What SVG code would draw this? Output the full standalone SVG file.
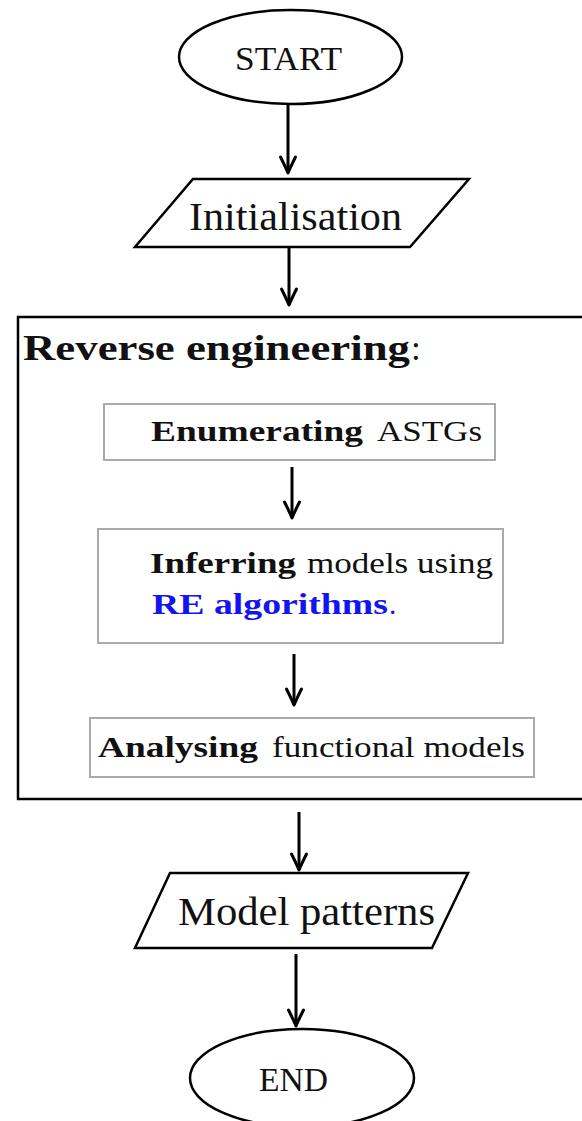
<svg xmlns="http://www.w3.org/2000/svg" width="582" height="1121" viewBox="0 0 582 1121">
  <style>
    text { font-family: "Liberation Serif", "Times New Roman", "DejaVu Serif", serif; fill: #111; }
    .b { font-weight: bold; }
    .blue { fill: #1414f0; }
    .shape { fill: #fff; stroke: #000; stroke-width: 2.5; }
    .frame { fill: none; stroke: #000; stroke-width: 2.5; }
    .step { fill: #fff; stroke: #aaaaaa; stroke-width: 2; }
    .edge { fill: none; stroke: #000; stroke-width: 3; }
  </style>
  <defs>
    <marker id="head" markerUnits="userSpaceOnUse" markerWidth="24" markerHeight="24" viewBox="-20 -12 24 24" refX="0" refY="0" orient="auto">
      <path d="M-16,-7.5 Q-6,-2.5 0,0 Q-6,2.5 -16,7.5" fill="none" stroke="#000" stroke-width="3" stroke-linecap="round" stroke-linejoin="round"/>
    </marker>
  </defs>
  <rect width="582" height="1121" fill="#fff"/>

  <g id="start">
    <ellipse class="shape" cx="290.5" cy="57" rx="111.5" ry="47"/>
    <text x="235" y="70" font-size="33" textLength="107" lengthAdjust="spacingAndGlyphs">START</text>
  </g>

  <g id="initialisation">
    <polygon class="shape" points="193,179 469,179 410,247 135,247"/>
    <text x="189" y="230" font-size="39" textLength="213" lengthAdjust="spacingAndGlyphs">Initialisation</text>
  </g>

  <g id="reverse-engineering">
    <rect class="frame" x="18" y="317" width="570" height="482"/>
    <text class="b" x="23" y="360" font-size="35" textLength="387" lengthAdjust="spacingAndGlyphs">Reverse engineering</text>
    <text x="411" y="360" font-size="35">:</text>
  </g>

  <g id="enumerating">
    <rect class="step" x="104" y="404" width="391" height="56"/>
    <text class="b" x="151" y="441" font-size="29" textLength="212" lengthAdjust="spacingAndGlyphs">Enumerating</text>
    <text x="377" y="441" font-size="29" textLength="105" lengthAdjust="spacingAndGlyphs">ASTGs</text>
  </g>

  <g id="inferring">
    <rect class="step" x="98" y="529" width="405" height="114"/>
    <text class="b" x="150" y="573" font-size="29" textLength="146" lengthAdjust="spacingAndGlyphs">Inferring</text>
    <text x="307" y="573" font-size="29" textLength="186" lengthAdjust="spacingAndGlyphs">models using</text>
    <text class="b blue" x="152" y="614" font-size="29" textLength="236" lengthAdjust="spacingAndGlyphs">RE algorithms</text>
    <text class="blue" x="389" y="614" font-size="29">.</text>
  </g>

  <g id="analysing">
    <rect class="step" x="90" y="718" width="444" height="59"/>
    <text class="b" x="98" y="757" font-size="29" textLength="160" lengthAdjust="spacingAndGlyphs">Analysing</text>
    <text x="272" y="757" font-size="29" textLength="253" lengthAdjust="spacingAndGlyphs">functional models</text>
  </g>

  <g id="model-patterns">
    <polygon class="shape" points="170,873 468,873 432,948 135,948"/>
    <text x="178" y="925" font-size="39" textLength="257" lengthAdjust="spacingAndGlyphs">Model patterns</text>
  </g>

  <g id="end">
    <ellipse class="shape" cx="302" cy="1078" rx="112" ry="49"/>
    <text x="259" y="1091" font-size="33" textLength="69" lengthAdjust="spacingAndGlyphs">END</text>
  </g>

  <g id="connectors">
    <path class="edge" d="M288,104 L288,173" marker-end="url(#head)"/>
    <path class="edge" d="M289,248 L289,305" marker-end="url(#head)"/>
    <path class="edge" d="M292,467 L292,518" marker-end="url(#head)"/>
    <path class="edge" d="M294,654 L294,705" marker-end="url(#head)"/>
    <path class="edge" d="M299,812 L299,870" marker-end="url(#head)"/>
    <path class="edge" d="M296,954 L296,1026" marker-end="url(#head)"/>
  </g>
</svg>
